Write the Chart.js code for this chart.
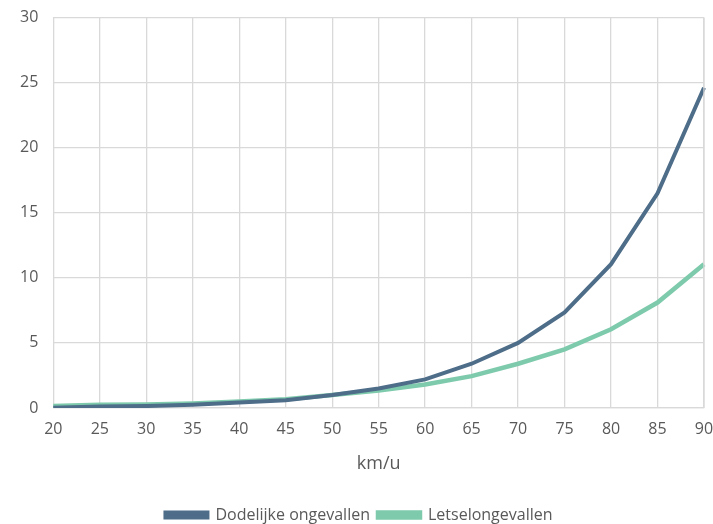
<!DOCTYPE html>
<html>
<head>
<meta charset="utf-8">
<script src="https://cdn.jsdelivr.net/npm/chart.js@4/dist/chart.umd.min.js"></script>
<style>
  html, body { margin: 0; padding: 0; background: #fff; }
  #wrap { width: 713px; height: 524px; }
</style>
</head>
<body>
<div id="wrap"><canvas id="grafiek"></canvas></div>
<script>
// snelheid (km/u)
const snelheden = ["20", "25", "30", "35", "40", "45", "50", "55", "60", "65", "70", "75", "80", "85", "90"];
const dodelijk = [0.02, 0.12, 0.15, 0.25, 0.42, 0.6, 1.0, 1.5, 2.2, 3.4, 5.0, 7.35, 11.05, 16.5, 24.6];
const letsel = [0.15, 0.25, 0.27, 0.35, 0.5, 0.68, 1.0, 1.35, 1.8, 2.45, 3.4, 4.5, 6.05, 8.1, 11.05];
const yTicks = [0, 5, 10, 15, 20, 25, 30];

const tekst = '#595959';
const raster = '#d9d9d9';
const lettertype = "'Open Sans', 'Liberation Sans', sans-serif";

Chart.defaults.font.family = lettertype;
Chart.defaults.color = tekst;

new Chart(document.getElementById('grafiek'), {
    type: 'line',
    data: {
        labels: snelheden,
        datasets: [
            {
                label: 'Dodelijke ongevallen',
                data: dodelijk,
                borderColor: '#4e6d89',
                backgroundColor: '#4e6d89',
                borderWidth: 4,
                pointRadius: 0,
                tension: 0
            },
            {
                label: 'Letselongevallen',
                data: letsel,
                borderColor: '#7ecaac',
                backgroundColor: '#7ecaac',
                borderWidth: 4.5,
                pointRadius: 0,
                tension: 0
            }
        ]
    },
    options: {
        responsive: true,
        maintainAspectRatio: false,
        animation: false,
        layout: { padding: { top: 0, right: 0, left: 5, bottom: -9 } },
        plugins: {
            tooltip: { enabled: false },
            legend: {
                position: 'bottom',
                labels: {
                    boxWidth: 42,
                    boxHeight: 5,
                    padding: 8,
                    font: { size: 16 },
                    color: tekst
                }
            }
        },
        scales: {
            x: {
                offset: false,
                afterFit: s => { s.paddingRight = 9; s.height = 91; },
                grid: { color: raster, lineWidth: 1.3, drawTicks: false },
                border: { color: raster, width: 1.3 },
                ticks: { padding: 12, font: { size: 16 }, color: tekst, maxRotation: 0, autoSkip: false },
                title: {
                    display: true,
                    text: 'km/u',
                    font: { size: 18 },
                    color: tekst,
                    padding: { top: 2, bottom: 24 }
                }
            },
            y: {
                min: 0,
                max: 30,
                afterBuildTicks: axis => { axis.ticks = yTicks.map(v => ({ value: v })); },
                afterFit: s => { s.paddingTop = 17.5; },
                grid: { color: raster, lineWidth: 1.3, drawTicks: false },
                border: { display: false },
                ticks: { padding: 15, font: { size: 16 }, color: tekst }
            }
        }
    },
    plugins: [{
        id: 'rechterRand',
        afterDraw(chart) {
            const { ctx, chartArea } = chart;
            ctx.save();
            ctx.strokeStyle = raster;
            ctx.lineWidth = 1.3;
            ctx.beginPath();
            ctx.moveTo(chartArea.right, chartArea.top);
            ctx.lineTo(chartArea.right, chartArea.bottom);
            ctx.stroke();
            ctx.restore();
        }
    }]
});
</script>
</body>
</html>
